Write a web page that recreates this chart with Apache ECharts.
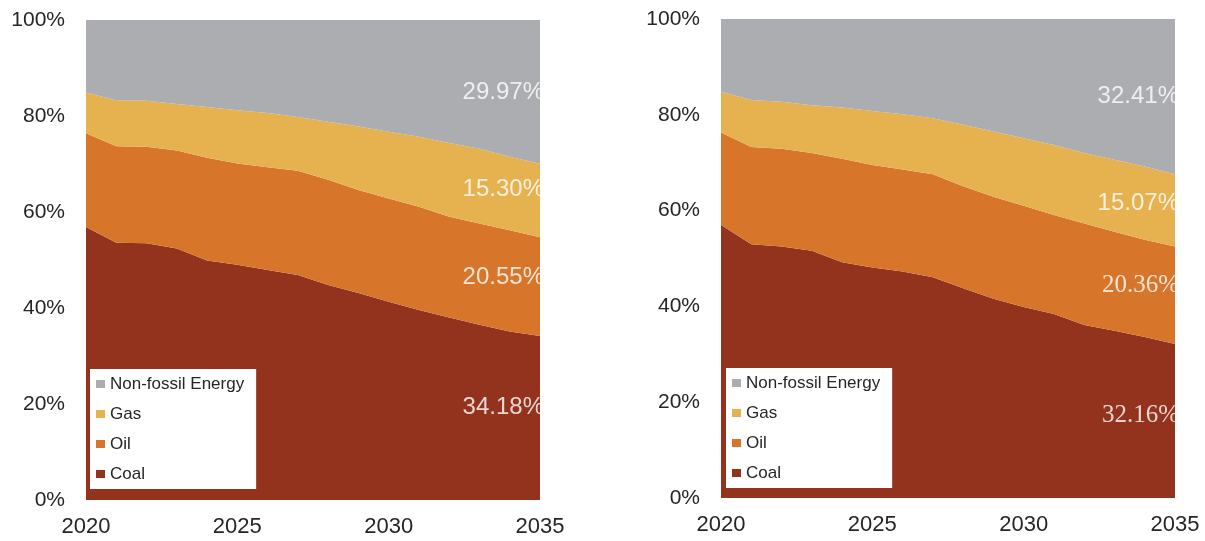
<!DOCTYPE html>
<html>
<head>
<meta charset="utf-8">
<style>
  html, body { margin: 0; padding: 0; background: #ffffff; }
  #chart { width: 1205px; height: 541px; }
</style>
<script src="https://cdn.jsdelivr.net/npm/echarts@6/dist/echarts.min.js"></script>
</head>
<body>
<div id="chart"></div>
<script>
// Primary energy mix shares (%), 2020-2035, two scenarios
const years = ['2020','2021','2022','2023','2024','2025','2026','2027','2028','2029','2030','2031','2032','2033','2034','2035'];
const yTicks = [0, 20, 40, 60, 80, 100];

const seriesNames = ['Coal', 'Oil', 'Gas', 'Non-fossil Energy'];
const legendOrder = ['Non-fossil Energy', 'Gas', 'Oil', 'Coal'];

// Scenario A (left panel)
const coalA      = [56.9, 53.6, 53.5, 52.4, 49.9, 49.0, 47.9, 46.9, 44.8, 43.1, 41.3, 39.6, 38.0, 36.5, 35.1, 34.18];
const oilA       = [19.5, 20.1, 20.1, 20.4, 21.4, 21.1, 21.4, 21.7, 21.9, 21.5, 21.5, 21.5, 21.0, 21.1, 21.1, 20.55];
const gasA       = [8.5, 9.6, 9.6, 9.7, 10.6, 11.1, 11.3, 11.2, 12.1, 13.2, 13.9, 14.6, 15.4, 15.6, 15.3, 15.30];
const nonFossilA = [15.1, 16.7, 16.8, 17.5, 18.1, 18.8, 19.4, 20.2, 21.2, 22.2, 23.3, 24.3, 25.6, 26.8, 28.5, 29.97];

// Scenario B (right panel)
const coalB      = [57.0, 53.0, 52.5, 51.6, 49.2, 48.1, 47.3, 46.1, 43.8, 41.6, 39.9, 38.4, 36.1, 34.9, 33.6, 32.16];
const oilB       = [19.3, 20.3, 20.4, 20.4, 21.6, 21.4, 21.3, 21.5, 21.3, 21.3, 21.1, 20.7, 21.2, 20.7, 20.3, 20.36];
const gasB       = [8.5, 9.8, 9.8, 10.0, 10.7, 11.3, 11.5, 11.7, 12.8, 13.6, 14.1, 14.6, 14.7, 15.0, 15.3, 15.07];
const nonFossilB = [15.2, 16.9, 17.3, 18.0, 18.5, 19.2, 19.9, 20.7, 22.1, 23.5, 24.9, 26.3, 28.0, 29.4, 30.8, 32.41];

const colors = {
  'Coal': '#93321d',
  'Oil': '#d7752a',
  'Gas': '#e5b24f',
  'Non-fossil Energy': '#acadb1'
};

const SANS = '"Liberation Sans", Arial, sans-serif';
const SERIF = '"Liberation Serif", "Times New Roman", serif';

const chart = echarts.init(document.getElementById('chart'), null, { renderer: 'canvas' });

const grids = [
  { left: 86, top: 20, width: 454, height: 480 },
  { left: 721, top: 19, width: 454, height: 479 }
];

function xAxisFor(gi) {
  return {
    type: 'category', gridIndex: gi, data: years, boundaryGap: false,
    axisLine: { show: false }, axisTick: { show: false },
    axisLabel: { interval: 4, color: '#262626', fontSize: 22, fontFamily: SANS, margin: 16 },
    splitLine: { show: false }
  };
}
function yAxisFor(gi) {
  return {
    type: 'value', gridIndex: gi, min: yTicks[0], max: yTicks[yTicks.length - 1], interval: 20,
    axisLine: { show: false }, axisTick: { show: false }, splitLine: { show: false },
    axisLabel: { formatter: '{value}%', color: '#262626', fontSize: 21, fontFamily: SANS, margin: 21 }
  };
}

function areaSeries(gi, name, values, stackId) {
  return {
    type: 'line', name: name, xAxisIndex: gi, yAxisIndex: gi, stack: stackId,
    data: values, symbol: 'none', smooth: false,
    lineStyle: { width: 0, color: colors[name] },
    itemStyle: { color: colors[name] },
    areaStyle: { color: colors[name], opacity: 1 },
    emphasis: { disabled: true },
    silent: true
  };
}

// End-of-period value labels, placed in the band of each stacked layer
function endLabelSeries(gi, stackList, fonts, lifts) {
  const last = years.length - 1;
  let base = 0;
  const pts = stackList.map((vals, i) => {
    const v = vals[last];
    const mid = base + v / 2;
    base += v;
    return {
      value: [years[last], mid],
      label: {
        show: true, position: 'left', distance: -4,
        offset: [0, -lifts[i]],
        formatter: v.toFixed(2) + '%',
        color: '#ffffff', fontSize: fonts[i].size, fontFamily: fonts[i].family
      }
    };
  });
  return {
    type: 'scatter', xAxisIndex: gi, yAxisIndex: gi, symbolSize: 0,
    data: pts, silent: true, z: 10, clip: false
  };
}

function legendFor(left, top) {
  return {
    data: legendOrder, orient: 'vertical', left: left, top: top,
    backgroundColor: '#ffffff', padding: [5, 12, 5, 6],
    itemWidth: 9, itemHeight: 8, itemGap: 10, icon: 'rect',
    selectedMode: false,
    textStyle: { color: '#262626', fontSize: 17, fontFamily: SANS, lineHeight: 20 }
  };
}

const sansL = { size: 24, family: SANS };
const sansB = { size: 24, family: SANS };
const serifB = { size: 25, family: SERIF };

const option = {
  backgroundColor: '#ffffff',
  animation: false,
  grid: grids,
  xAxis: [xAxisFor(0), xAxisFor(1)],
  yAxis: [yAxisFor(0), yAxisFor(1)],
  legend: [legendFor(90, 369), legendFor(726, 368)],
  series: [
    areaSeries(0, 'Coal', coalA, 'A'),
    areaSeries(0, 'Oil', oilA, 'A'),
    areaSeries(0, 'Gas', gasA, 'A'),
    areaSeries(0, 'Non-fossil Energy', nonFossilA, 'A'),
    areaSeries(1, 'Coal', coalB, 'B'),
    areaSeries(1, 'Oil', oilB, 'B'),
    areaSeries(1, 'Gas', gasB, 'B'),
    areaSeries(1, 'Non-fossil Energy', nonFossilB, 'B'),
    endLabelSeries(0, [coalA, oilA, gasA, nonFossilA], [sansL, sansL, sansL, sansL], [11, 9, 11, 0]),
    endLabelSeries(1, [coalB, oilB, gasB, nonFossilB], [serifB, serifB, sansB, sansB], [6, 10, 7, 0])
  ]
};

chart.setOption(option);
</script>
</body>
</html>
